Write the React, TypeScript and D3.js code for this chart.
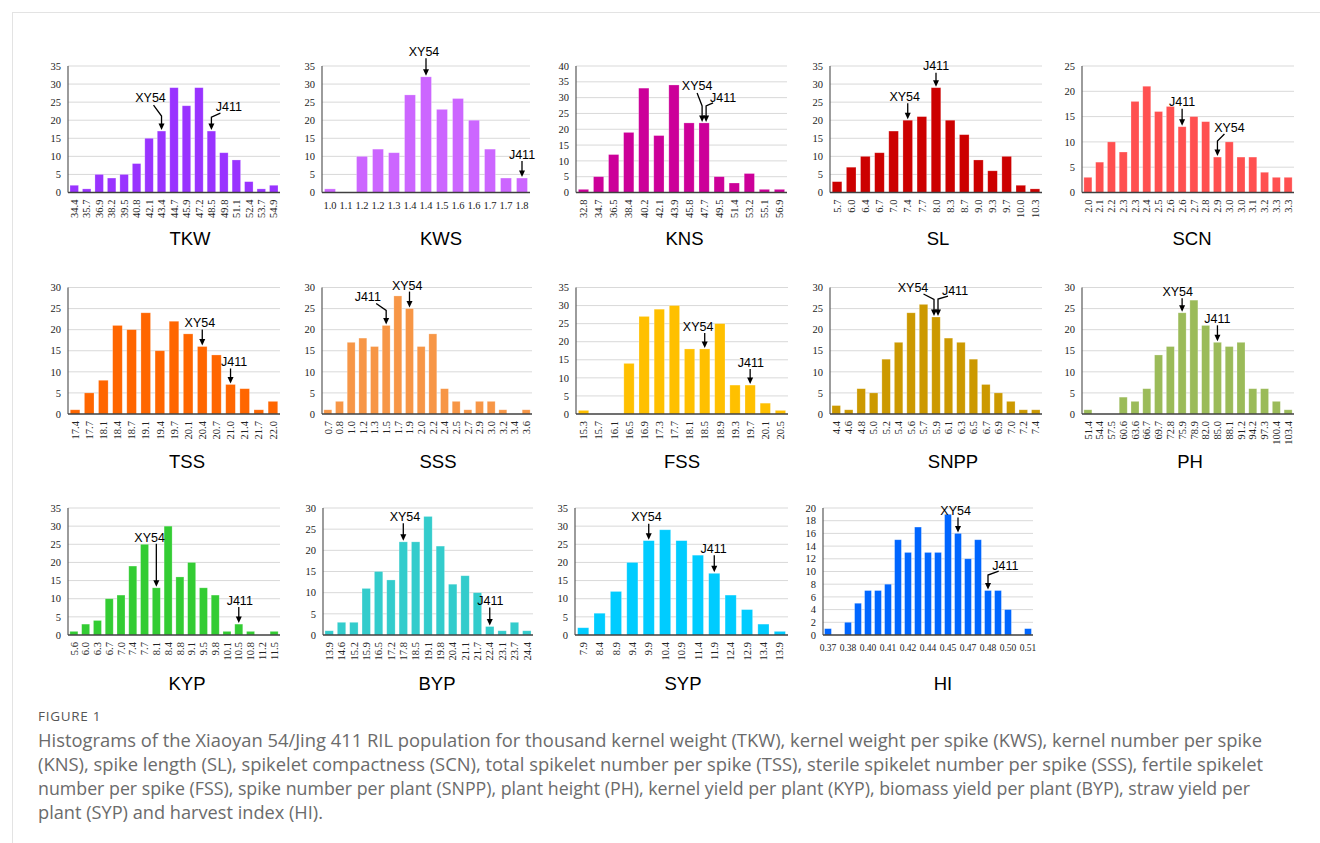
import React from 'react';
import * as d3 from 'd3';

// ---- Bin labels and RIL counts for each trait ----
const tkwBins = ['34.4', '35.7', '36.9', '38.2', '39.5', '40.8', '42.1', '43.4', '44.7', '45.9', '47.2', '48.5', '49.8', '51.1', '52.4', '53.7', '54.9'];
const tkwCounts = [2, 1, 5, 4, 5, 8, 15, 17, 29, 24, 29, 17, 11, 9, 3, 1, 2];

const kwsBins = ['1.0', '1.1', '1.2', '1.2', '1.3', '1.4', '1.4', '1.5', '1.6', '1.6', '1.7', '1.7', '1.8'];
const kwsCounts = [1, 0, 10, 12, 11, 27, 32, 23, 26, 20, 12, 4, 4];

const knsBins = ['32.8', '34.7', '36.5', '38.4', '40.2', '42.1', '43.9', '45.8', '47.7', '49.5', '51.4', '53.2', '55.1', '56.9'];
const knsCounts = [1, 5, 12, 19, 33, 18, 34, 22, 22, 5, 3, 6, 1, 1];

const slBins = ['5.7', '6.0', '6.4', '6.7', '7.0', '7.4', '7.7', '8.0', '8.3', '8.7', '9.0', '9.3', '9.7', '10.0', '10.3'];
const slCounts = [3, 7, 10, 11, 17, 20, 21, 29, 20, 16, 9, 6, 10, 2, 1];

const scnBins = ['2.0', '2.1', '2.2', '2.3', '2.3', '2.4', '2.5', '2.6', '2.6', '2.7', '2.8', '2.9', '3.0', '3.0', '3.1', '3.2', '3.3', '3.3'];
const scnCounts = [3, 6, 10, 8, 18, 21, 16, 17, 13, 15, 14, 7, 10, 7, 7, 4, 3, 3];

const tssBins = ['17.4', '17.7', '18.1', '18.4', '18.7', '19.1', '19.4', '19.7', '20.1', '20.4', '20.7', '21.0', '21.4', '21.7', '22.0'];
const tssCounts = [1, 5, 8, 21, 20, 24, 15, 22, 19, 16, 14, 7, 6, 1, 3];

const sssBins = ['0.7', '0.8', '1.0', '1.2', '1.3', '1.5', '1.7', '1.9', '2.0', '2.2', '2.4', '2.5', '2.7', '2.9', '3.0', '3.2', '3.4', '3.6'];
const sssCounts = [1, 3, 17, 18, 16, 21, 28, 25, 16, 19, 6, 3, 1, 3, 3, 1, 0, 1];

const fssBins = ['15.3', '15.7', '16.1', '16.5', '16.9', '17.3', '17.7', '18.1', '18.5', '18.9', '19.3', '19.7', '20.1', '20.5'];
const fssCounts = [1, 0, 0, 14, 27, 29, 30, 18, 18, 25, 8, 8, 3, 1];

const snppBins = ['4.4', '4.6', '4.8', '5.0', '5.2', '5.4', '5.6', '5.7', '5.9', '6.1', '6.3', '6.5', '6.7', '6.9', '7.0', '7.2', '7.4'];
const snppCounts = [2, 1, 6, 5, 13, 17, 24, 26, 23, 18, 17, 13, 7, 5, 3, 1, 1];

const phBins = ['51.4', '54.4', '57.5', '60.6', '63.6', '66.7', '69.7', '72.8', '75.9', '78.9', '82.0', '85.0', '88.1', '91.2', '94.2', '97.3', '100.4', '103.4'];
const phCounts = [1, 0, 0, 4, 3, 6, 14, 16, 24, 27, 21, 17, 16, 17, 6, 6, 3, 1];

const kypBins = ['5.6', '6.0', '6.3', '6.7', '7.0', '7.4', '7.7', '8.1', '8.4', '8.8', '9.1', '9.5', '9.8', '10.1', '10.5', '10.8', '11.2', '11.5'];
const kypCounts = [1, 3, 4, 10, 11, 19, 25, 13, 30, 16, 20, 13, 11, 1, 3, 1, 0, 1];

const bypBins = ['13.9', '14.6', '15.2', '15.9', '16.5', '17.2', '17.8', '18.5', '19.1', '19.8', '20.4', '21.1', '21.7', '22.4', '23.1', '23.7', '24.4'];
const bypCounts = [1, 3, 3, 11, 15, 13, 22, 22, 28, 21, 12, 14, 10, 2, 1, 3, 1];

const sypBins = ['7.9', '8.4', '8.9', '9.4', '9.9', '10.4', '10.9', '11.4', '11.9', '12.4', '12.9', '13.4', '13.9'];
const sypCounts = [2, 6, 12, 20, 26, 29, 26, 22, 17, 11, 7, 3, 1];

// HI has 21 bins; every other bin carries a tick label
const hiBins = ['0.37', '0.38', '0.40', '0.41', '0.42', '0.44', '0.45', '0.47', '0.48', '0.50', '0.51'];
const hiCounts = [1, 0, 2, 5, 7, 7, 8, 15, 13, 17, 13, 13, 19, 16, 12, 15, 7, 7, 4, 0, 1];

const captionLines = [
  'Histograms of the Xiaoyan 54/Jing 411 RIL population for thousand kernel weight (TKW), kernel weight per spike (KWS), kernel number per spike',
  '(KNS), spike length (SL), spikelet compactness (SCN), total spikelet number per spike (TSS), sterile spikelet number per spike (SSS), fertile spikelet',
  'number per spike (FSS), spike number per plant (SNPP), plant height (PH), kernel yield per plant (KYP), biomass yield per plant (BYP), straw yield per',
  'plant (SYP) and harvest index (HI).',
];
const captionWidths = [1224, 1225, 1212, 285];

type Mark = { name: string; idx: number };
type Panel = {
  title: string;
  bins: string[];
  counts: number[];
  color: string;
  yMax: number;
  yStep: number;
  marks: Mark[];
  horizontalTicks?: boolean;
  tickEvery?: number;
};

const panels: Panel[] = [
  { title: 'TKW', bins: tkwBins, counts: tkwCounts, color: '#9933ff', yMax: 35, yStep: 5, marks: [{ name: 'XY54', idx: 7 }, { name: 'J411', idx: 11 }] },
  { title: 'KWS', bins: kwsBins, counts: kwsCounts, color: '#cc66ff', yMax: 35, yStep: 5, marks: [{ name: 'XY54', idx: 6 }, { name: 'J411', idx: 12 }], horizontalTicks: true },
  { title: 'KNS', bins: knsBins, counts: knsCounts, color: '#cc0099', yMax: 40, yStep: 5, marks: [{ name: 'XY54', idx: 8 }, { name: 'J411', idx: 8 }] },
  { title: 'SL', bins: slBins, counts: slCounts, color: '#cc0000', yMax: 35, yStep: 5, marks: [{ name: 'XY54', idx: 5 }, { name: 'J411', idx: 7 }] },
  { title: 'SCN', bins: scnBins, counts: scnCounts, color: '#ff5050', yMax: 25, yStep: 5, marks: [{ name: 'J411', idx: 8 }, { name: 'XY54', idx: 11 }] },
  { title: 'TSS', bins: tssBins, counts: tssCounts, color: '#ff6600', yMax: 30, yStep: 5, marks: [{ name: 'XY54', idx: 9 }, { name: 'J411', idx: 11 }] },
  { title: 'SSS', bins: sssBins, counts: sssCounts, color: '#f79646', yMax: 30, yStep: 5, marks: [{ name: 'J411', idx: 5 }, { name: 'XY54', idx: 7 }] },
  { title: 'FSS', bins: fssBins, counts: fssCounts, color: '#ffc000', yMax: 35, yStep: 5, marks: [{ name: 'XY54', idx: 8 }, { name: 'J411', idx: 11 }] },
  { title: 'SNPP', bins: snppBins, counts: snppCounts, color: '#cc9900', yMax: 30, yStep: 5, marks: [{ name: 'XY54', idx: 8 }, { name: 'J411', idx: 8 }] },
  { title: 'PH', bins: phBins, counts: phCounts, color: '#9bbb59', yMax: 30, yStep: 5, marks: [{ name: 'XY54', idx: 8 }, { name: 'J411', idx: 11 }] },
  { title: 'KYP', bins: kypBins, counts: kypCounts, color: '#33cc33', yMax: 35, yStep: 5, marks: [{ name: 'XY54', idx: 7 }, { name: 'J411', idx: 14 }] },
  { title: 'BYP', bins: bypBins, counts: bypCounts, color: '#33cccc', yMax: 30, yStep: 5, marks: [{ name: 'XY54', idx: 6 }, { name: 'J411', idx: 13 }] },
  { title: 'SYP', bins: sypBins, counts: sypCounts, color: '#00ccff', yMax: 35, yStep: 5, marks: [{ name: 'XY54', idx: 4 }, { name: 'J411', idx: 8 }] },
  { title: 'HI', bins: hiBins, counts: hiCounts, color: '#0066ff', yMax: 20, yStep: 2, marks: [{ name: 'XY54', idx: 13 }, { name: 'J411', idx: 16 }], horizontalTicks: true, tickEvery: 2 },
];

// ---- Layout ----
const rows = [
  { top: 66, zero: 192.5, title: 244.5 },
  { top: 287.5, zero: 414, title: 468 },
  { top: 508, zero: 635, title: 690 },
];

const boxes: Record<string, { x0: number; x1: number; row: number; titleDx: number }> = {
  TKW: { x0: 68, x1: 280, row: 0, titleDx: 16 },
  KWS: { x0: 322, x1: 530, row: 0, titleDx: 15 },
  KNS: { x0: 576, x1: 787, row: 0, titleDx: 3 },
  SL: { x0: 830, x1: 1042, row: 0, titleDx: 2 },
  SCN: { x0: 1082, x1: 1294, row: 0, titleDx: 4 },
  TSS: { x0: 68, x1: 280, row: 1, titleDx: 13 },
  SSS: { x0: 322, x1: 532, row: 1, titleDx: 11 },
  FSS: { x0: 576, x1: 788, row: 1, titleDx: 0 },
  SNPP: { x0: 830, x1: 1042, row: 1, titleDx: 17 },
  PH: { x0: 1082, x1: 1294, row: 1, titleDx: 2 },
  KYP: { x0: 68, x1: 280, row: 2, titleDx: 13 },
  BYP: { x0: 323, x1: 533, row: 2, titleDx: 9 },
  SYP: { x0: 575, x1: 788, row: 2, titleDx: 1.5 },
  HI: { x0: 823, x1: 1033, row: 2, titleDx: 15 },
};

// Callout geometry, offsets from the bar top centre: leader path and label anchor
type Callout = { path: [number, number][]; lx: number; ly: number };
const straight = (len: number, lx: number, ly: number, sx = 0): Callout => ({ path: [[sx, -1], [sx, -len]], lx, ly });
const callouts: Record<string, Callout> = {
  'TKW-XY54': { path: [[0, -1], [0, -15], [-8, -26]], lx: -11, ly: -29 },
  'TKW-J411': { path: [[0, -1], [0, -14], [9, -18]], lx: 17.5, ly: -20.5 },
  'KWS-XY54': straight(18.5, -2, -20.5),
  'KWS-J411': straight(17, 0, -19),
  'KNS-XY54': { path: [[-2, -1], [-2, -17], [-7, -30]], lx: -7, ly: -33 },
  'KNS-J411': { path: [[2, -1], [2, -17], [9, -20]], lx: 19, ly: -21 },
  'SL-XY54': straight(17, -3, -19),
  'SL-J411': straight(15, 0, -18),
  'SCN-J411': straight(18, 0, -20.5),
  'SCN-XY54': { path: [[0, -1], [0, -16], [7, -23]], lx: 12, ly: -25 },
  'TSS-XY54': straight(17, -2.4, -19.5),
  'TSS-J411': straight(16, 3.5, -18.5),
  'SSS-J411': { path: [[0, -1], [0, -15], [-10, -22]], lx: -18.4, ly: -24.5 },
  'SSS-XY54': straight(17, -2.3, -19),
  'FSS-XY54': straight(16, -6.6, -18),
  'FSS-J411': straight(16, 0.7, -18),
  'SNPP-XY54': { path: [[-2, -1], [-2, -17.5], [-12.5, -23]], lx: -23, ly: -25 },
  'SNPP-J411': { path: [[2, -1], [2, -18], [12, -21]], lx: 19, ly: -22.5 },
  'PH-XY54': straight(14.5, -4.4, -17),
  'PH-J411': straight(17, 0, -19),
  'KYP-XY54': straight(44, -6.7, -46),
  'KYP-J411': straight(17, 1, -19),
  'BYP-XY54': straight(18.5, 1.7, -21),
  'BYP-J411': straight(19, 0.7, -21.5),
  'SYP-XY54': straight(17, -2.3, -19.6),
  'SYP-J411': straight(18, -0.7, -20),
  'HI-XY54': straight(16, -2.4, -18.4),
  'HI-J411': { path: [[0, -1], [0, -15.5], [10.7, -19.5]], lx: 17.4, ly: -21 },
};

const serif = '"Liberation Serif", "Times New Roman", serif';
const sans = '"Liberation Sans", Arial, sans-serif';

function Histogram({ p }: { p: Panel }) {
  const box = boxes[p.title];
  const row = rows[box.row];
  const x = d3
    .scaleBand<number>()
    .domain(d3.range(p.counts.length))
    .range([box.x0, box.x1])
    .paddingInner(0.32)
    .paddingOuter(0.16);
  const y = d3.scaleLinear().domain([0, p.yMax]).range([row.zero, row.top]);
  const ticks = d3.range(0, p.yMax + 1e-9, p.yStep);
  const every = p.tickEvery ?? 1;
  const cx = (i: number) => (x(i) as number) + x.bandwidth() / 2;
  const line = d3.line();

  return (
    <g>
      {/* gridlines */}
      {ticks.slice(1).map((t) => (
        <line key={'g' + t} x1={box.x0} x2={box.x1} y1={y(t)} y2={y(t)} stroke="#d9d9d9" strokeWidth={1} />
      ))}
      {/* y tick labels */}
      {ticks.map((t) => (
        <text
          key={'t' + t}
          x={box.x0 - 7}
          y={y(t)}
          dy="0.35em"
          textAnchor="end"
          fontFamily={serif}
          fontSize={10.5}
          fill="#222"
        >
          {t}
        </text>
      ))}
      {/* bars */}
      {p.counts.map((c, i) => (
        <rect
          key={'b' + i}
          x={x(i)}
          y={y(c)}
          width={x.bandwidth()}
          height={row.zero - y(c)}
          fill={p.color}
          stroke="#ffffff"
          strokeOpacity={0.35}
          strokeWidth={0.7}
        />
      ))}
      {/* axes */}
      <line x1={box.x0} x2={box.x0} y1={row.top} y2={row.zero} stroke="#595959" strokeWidth={1.2} />
      <line x1={box.x0} x2={box.x1} y1={row.zero} y2={row.zero} stroke="#404040" strokeWidth={1.3} />
      {/* x tick labels */}
      {p.bins.map((b, k) => {
        const i = k * every;
        if (p.horizontalTicks) {
          return (
            <text
              key={'x' + k}
              x={cx(i)}
              y={row.zero + 16}
              textAnchor="middle"
              fontFamily={serif}
              fontSize={every > 1 ? 9.5 : 10.5}
              fill="#222"
            >
              {b}
            </text>
          );
        }
        return (
          <text
            key={'x' + k}
            transform={`translate(${cx(i)},${row.zero + 7}) rotate(-90)`}
            dy="0.35em"
            textAnchor="end"
            fontFamily={serif}
            fontSize={10.5}
            fill="#222"
          >
            {b}
          </text>
        );
      })}
      {/* parent callouts */}
      {p.marks.map((m) => {
        const geo = callouts[`${p.title}-${m.name}`];
        const bx = cx(m.idx);
        const by = y(p.counts[m.idx]);
        const pts = geo.path.map(([dx, dy]) => [bx + dx, by + dy] as [number, number]);
        const tip = pts[0];
        const shaft = pts.map((pt, j) => (j === 0 ? ([pt[0], pt[1] - 4] as [number, number]) : pt));
        return (
          <g key={m.name}>
            <path d={line(shaft) || ''} fill="none" stroke="#000" strokeWidth={1.3} />
            <path
              d={`M${tip[0] - 3},${tip[1] - 6.5}L${tip[0] + 3},${tip[1] - 6.5}L${tip[0]},${tip[1]}Z`}
              fill="#000"
            />
            <text x={bx + geo.lx} y={by + geo.ly} textAnchor="middle" fontFamily={sans} fontSize={12.5} fill="#000">
              {m.name}
            </text>
          </g>
        );
      })}
      {/* trait title */}
      <text
        x={(box.x0 + box.x1) / 2 + box.titleDx}
        y={row.title}
        textAnchor="middle"
        fontFamily={sans}
        fontSize={18.5}
        fill="#000"
      >
        {p.title}
      </text>
    </g>
  );
}

export default function App() {
  return (
    <div style={{ position: 'absolute', left: 0, top: 0 }}>
      <svg width={1320} height={843} style={{ display: 'block', background: '#fff' }}>
        <line x1={12} x2={1320} y1={12.5} y2={12.5} stroke="#e3e3e3" strokeWidth={1} />
        <line x1={12.5} x2={12.5} y1={12} y2={843} stroke="#e3e3e3" strokeWidth={1} />
        {panels.map((p) => (
          <Histogram key={p.title} p={p} />
        ))}
        <text x={38} y={721} fontFamily='"Open Sans", sans-serif' fontSize={13.5} letterSpacing={0.7} fill="#555">
          FIGURE 1
        </text>
        {captionLines.map((l, i) => (
          <text
            key={i}
            x={38}
            y={747 + i * 24}
            fontFamily='"Open Sans", sans-serif'
            fontSize={18}
            textLength={captionWidths[i]}
            lengthAdjust="spacingAndGlyphs"
            fill="#6b6b6b"
          >
            {l}
          </text>
        ))}
      </svg>
    </div>
  );
}
